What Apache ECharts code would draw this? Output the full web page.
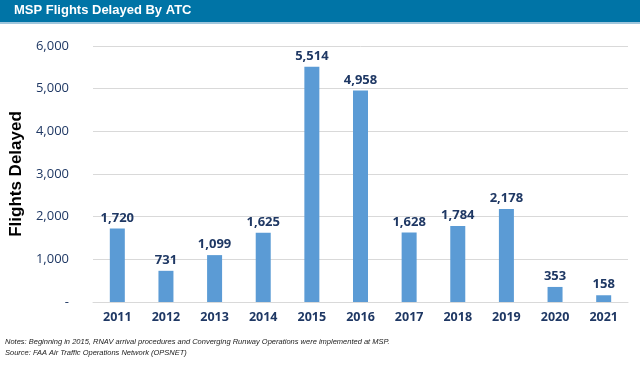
<!DOCTYPE html>
<html><head><meta charset="utf-8">
<script src="https://cdn.jsdelivr.net/npm/echarts@6/dist/echarts.min.js"></script>
<style>html,body{margin:0;padding:0;background:#fff;}#c{width:640px;height:379px;}</style>
</head><body><div id="c"></div>
<script>
const years = ['2011','2012','2013','2014','2015','2016','2017','2018','2019','2020','2021'];
const delays = [1720, 731, 1099, 1625, 5514, 4958, 1628, 1784, 2178, 353, 158];
const yTicks = [0, 1000, 2000, 3000, 4000, 5000, 6000];
const titleText = 'MSP Flights Delayed By ATC';
const yAxisTitle = 'Flights Delayed';
const notes = 'Notes: Beginning in 2015, RNAV arrival procedures and Converging Runway Operations were implemented at MSP.';
const source = 'Source: FAA Air Traffic Operations Network (OPSNET)';

const chart = echarts.init(document.getElementById('c'), null, {renderer: 'canvas'});
const navy = '#1F3864';
chart.setOption({
  animation: false,
  backgroundColor: '#fff',
  graphic: [
    {type: 'rect', left: 0, top: 0, shape: {width: 640, height: 22}, style: {fill: '#0074A6'}},
    {type: 'rect', left: 0, top: 22, shape: {width: 640, height: 2}, style: {fill: '#9FC6DC'}},
    {type: 'text', left: 14, top: 4, style: {text: titleText, fill: '#fff', font: 'bold 13px "Liberation Sans", Arial, sans-serif'}},
    {type: 'text', left: 5, top: 338, style: {text: notes, fill: '#222', font: 'italic 7.5px "Liberation Sans", Arial, sans-serif'}},
    {type: 'text', left: 5, top: 349, style: {text: source, fill: '#222', font: 'italic 7.5px "Liberation Sans", Arial, sans-serif'}}
  ],
  grid: {left: 88, right: 12, top: 46, bottom: 77, containLabel: false},
  xAxis: {
    type: 'category', data: years,
    axisLine: {show: true, lineStyle: {color: '#D9D9D9', width: 1}},
    axisTick: {show: false},
    axisLabel: {color: navy, fontWeight: 'bold', fontSize: 12.5, fontFamily: '"Open Sans", sans-serif', margin: 9}
  },
  yAxis: {
    type: 'value', min: 0, max: 6000, interval: 1000,
    name: yAxisTitle, nameLocation: 'middle', nameGap: 60,
    nameTextStyle: {color: '#000', fontWeight: 'bold', fontSize: 17, fontFamily: '"Liberation Sans", Arial, sans-serif'},
    axisLine: {show: false}, axisTick: {show: false},
    splitLine: {lineStyle: {color: '#D9D9D9', width: 1}},
    axisLabel: {color: navy, fontSize: 13, fontFamily: '"Open Sans", sans-serif', margin: 24,
      formatter: v => yTicks.includes(v) ? (v === 0 ? '-' : v.toLocaleString('en-US')) : ''}
  },
  series: [{
    type: 'bar', data: delays, barWidth: 15,
    itemStyle: {color: '#5B9BD5'},
    label: {show: true, position: 'top', distance: 4, color: navy, fontWeight: 'bold', fontSize: 13,
      fontFamily: '"Open Sans", sans-serif', formatter: p => p.value.toLocaleString('en-US')}
  }]
});
</script></body></html>
